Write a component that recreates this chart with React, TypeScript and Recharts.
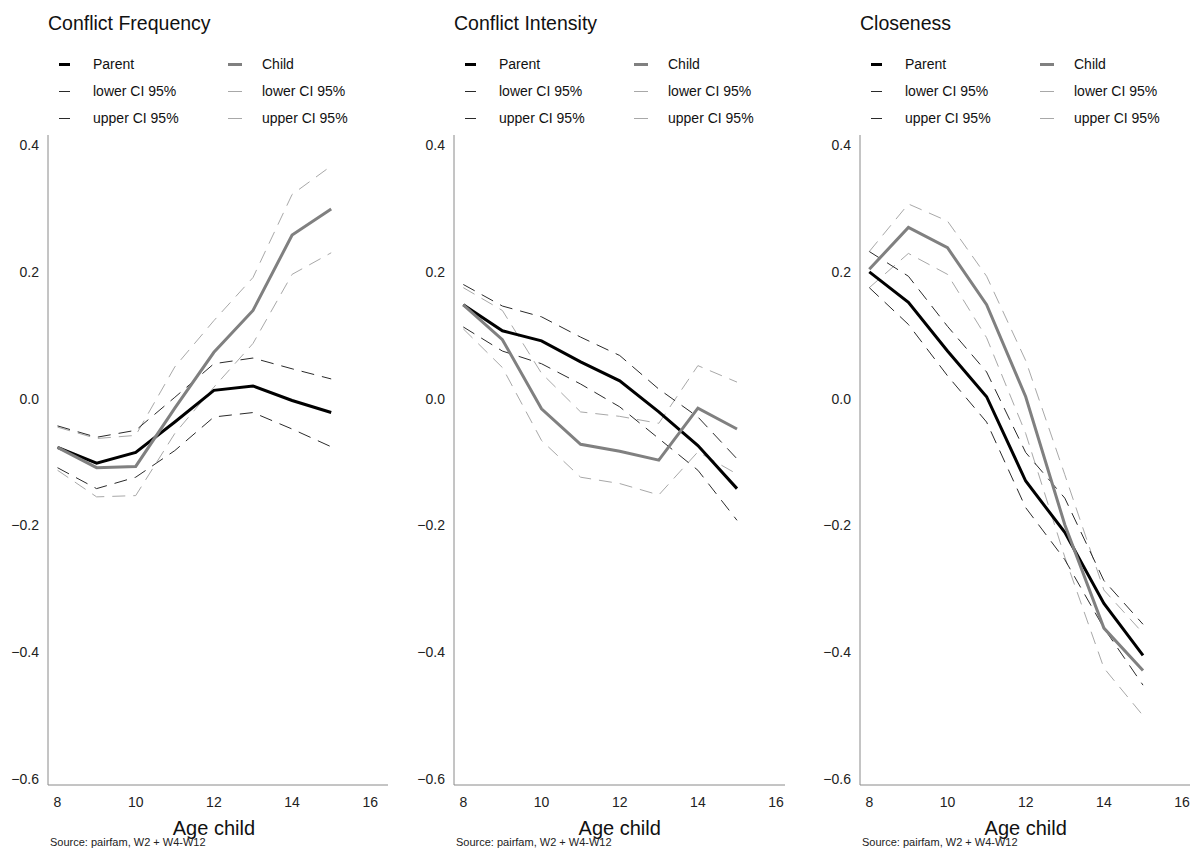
import { LineChart, Line, XAxis, YAxis } from 'recharts'

// ── data ──
const ages = [8, 9, 10, 11, 12, 13, 14, 15]

const freqParent = [-0.077, -0.102, -0.085, -0.037, 0.013, 0.02, -0.003, -0.022]
const freqParentLo = [-0.109, -0.142, -0.124, -0.082, -0.029, -0.022, -0.048, -0.076]
const freqParentHi = [-0.043, -0.061, -0.05, 0.002, 0.055, 0.064, 0.047, 0.031]
const freqChild = [-0.077, -0.109, -0.107, -0.015, 0.073, 0.139, 0.258, 0.299]
const freqChildLo = [-0.113, -0.155, -0.153, -0.055, 0.018, 0.087, 0.196, 0.23]
const freqChildHi = [-0.045, -0.063, -0.058, 0.05, 0.123, 0.191, 0.322, 0.367]

const intParent = [0.148, 0.107, 0.091, 0.058, 0.028, -0.021, -0.074, -0.142]
const intParentLo = [0.113, 0.075, 0.055, 0.023, -0.013, -0.063, -0.113, -0.192]
const intParentHi = [0.18, 0.146, 0.129, 0.097, 0.068, 0.015, -0.029, -0.095]
const intChild = [0.148, 0.093, -0.016, -0.072, -0.083, -0.097, -0.015, -0.048]
const intChildLo = [0.11, 0.049, -0.066, -0.124, -0.134, -0.152, -0.084, -0.119]
const intChildHi = [0.175, 0.139, 0.04, -0.021, -0.028, -0.039, 0.052, 0.026]

const cloParent = [0.2, 0.152, 0.075, 0.003, -0.13, -0.211, -0.323, -0.405]
const cloParentLo = [0.175, 0.117, 0.036, -0.037, -0.172, -0.254, -0.362, -0.452]
const cloParentHi = [0.232, 0.193, 0.114, 0.042, -0.085, -0.157, -0.287, -0.356]
const cloChild = [0.204, 0.27, 0.238, 0.148, 0.003, -0.199, -0.362, -0.429]
const cloChildLo = [0.175, 0.229, 0.196, 0.096, -0.055, -0.25, -0.425, -0.5]
const cloChildHi = [0.232, 0.307, 0.28, 0.193, 0.06, -0.12, -0.302, -0.37]

const xTicks = [8, 10, 12, 14, 16]
const yTicks = [-0.6, -0.4, -0.2, 0, 0.2, 0.4]

const FONT = '"Liberation Sans", Arial, Helvetica, sans-serif'
const PX_PER_YEAR = 39.1
const PLOT_TOP = 135
const PLOT_BOTTOM = 785
const Y_DOMAIN: [number, number] = [-0.6095, 0.4158]

const C_PARENT = '#000000'
const C_CHILD = '#808080'
const C_PARENT_CI = '#2a2a2a'
const C_CHILD_CI = '#a8a8a8'

function build(p: number[], pl: number[], ph: number[], c: number[], cl: number[], ch: number[]) {
  return ages.map((age, i) => ({
    age,
    parent: p[i],
    parentLo: pl[i],
    parentHi: ph[i],
    child: c[i],
    childLo: cl[i],
    childHi: ch[i],
  }))
}

const panels = [
  { title: 'Conflict Frequency', left: 48, right: 388, p8: 57.5, rows: build(freqParent, freqParentLo, freqParentHi, freqChild, freqChildLo, freqChildHi) },
  { title: 'Conflict Intensity', left: 454, right: 785, p8: 463.3, rows: build(intParent, intParentLo, intParentHi, intChild, intChildLo, intChildHi) },
  { title: 'Closeness', left: 860, right: 1190, p8: 869.3, rows: build(cloParent, cloParentLo, cloParentHi, cloChild, cloChildLo, cloChildHi) },
]

const fmtY = (v: number) => {
  if (Math.abs(v) < 1e-9) return '0.0'
  return (v < 0 ? '\u2212' : '') + Math.abs(v).toFixed(1)
}

function LegendRow({ x, y, color, thick, wide, label }: { x: number; y: number; color: string; thick: boolean; wide: number; label: string }) {
  return (
    <>
      <div
        style={{
          position: 'absolute',
          left: x,
          top: y - (thick ? 1.5 : 0.5),
          width: wide,
          height: thick ? 3 : 1,
          background: color,
        }}
      />
      <div
        style={{
          position: 'absolute',
          left: x + 34,
          top: y - 9,
          fontSize: 14,
          lineHeight: '18px',
          color: '#111',
          whiteSpace: 'nowrap',
        }}
      >
        {label}
      </div>
    </>
  )
}

function Panel({ title, left, right, p8, rows }: (typeof panels)[number]) {
  const yAxisW = 50
  const chartLeft = left - yAxisW
  const chartW = yAxisW + (right - left) + 5
  const chartTop = PLOT_TOP - 10
  const xAxisH = 30
  const chartH = PLOT_BOTTOM - chartTop + xAxisH + 5
  const xDomain: [number, number] = [8 - (p8 - left) / PX_PER_YEAR, 8 + (right - p8) / PX_PER_YEAR]
  const mid = p8 + 4 * PX_PER_YEAR

  return (
    <>
      <div style={{ position: 'absolute', left, top: 11, fontSize: 19.5, lineHeight: '24px', color: '#111', whiteSpace: 'nowrap' }}>
        {title}
      </div>

      <LegendRow x={left + 11} y={64} color={C_PARENT} thick wide={11} label="Parent" />
      <LegendRow x={left + 11} y={91} color={C_PARENT_CI} thick={false} wide={11} label="lower CI 95%" />
      <LegendRow x={left + 11} y={118} color={C_PARENT_CI} thick={false} wide={11} label="upper CI 95%" />
      <LegendRow x={left + 180} y={64} color={C_CHILD} thick wide={14} label="Child" />
      <LegendRow x={left + 180} y={91} color={C_CHILD_CI} thick={false} wide={14} label="lower CI 95%" />
      <LegendRow x={left + 180} y={118} color={C_CHILD_CI} thick={false} wide={14} label="upper CI 95%" />

      <div style={{ position: 'absolute', left: chartLeft, top: chartTop }}>
        <LineChart
          width={chartW}
          height={chartH}
          data={rows}
          margin={{ top: 10, right: 5, bottom: 5, left: 0 }}
          style={{ fontFamily: FONT }}
        >
          <XAxis
            dataKey="age"
            type="number"
            domain={xDomain}
            ticks={xTicks}
            allowDataOverflow
            tickLine={false}
            tickSize={0}
            tickMargin={12}
            height={xAxisH}
            stroke="#8a8a8a"
            tick={{ fill: '#222', fontSize: 14 }}
          />
          <YAxis
            type="number"
            domain={Y_DOMAIN}
            ticks={yTicks}
            allowDataOverflow
            tickLine={false}
            tickSize={0}
            tickMargin={9}
            width={yAxisW}
            stroke="#8a8a8a"
            tickFormatter={fmtY}
            tick={{ fill: '#222', fontSize: 14 }}
          />
          <Line dataKey="childLo" type="linear" stroke={C_CHILD_CI} strokeWidth={1} strokeDasharray="13 8" dot={false} activeDot={false} isAnimationActive={false} />
          <Line dataKey="childHi" type="linear" stroke={C_CHILD_CI} strokeWidth={1} strokeDasharray="13 8" dot={false} activeDot={false} isAnimationActive={false} />
          <Line dataKey="parentLo" type="linear" stroke={C_PARENT_CI} strokeWidth={1} strokeDasharray="13 8" dot={false} activeDot={false} isAnimationActive={false} />
          <Line dataKey="parentHi" type="linear" stroke={C_PARENT_CI} strokeWidth={1} strokeDasharray="13 8" dot={false} activeDot={false} isAnimationActive={false} />
          <Line dataKey="parent" type="linear" stroke={C_PARENT} strokeWidth={3} dot={false} activeDot={false} isAnimationActive={false} />
          <Line dataKey="child" type="linear" stroke={C_CHILD} strokeWidth={3} dot={false} activeDot={false} isAnimationActive={false} />
        </LineChart>
      </div>

      <div
        style={{
          position: 'absolute',
          left: mid - 100,
          width: 200,
          top: 816,
          textAlign: 'center',
          fontSize: 20,
          lineHeight: '24px',
          color: '#111',
        }}
      >
        Age child
      </div>
      <div style={{ position: 'absolute', left: left + 2, top: 835, fontSize: 11, lineHeight: '14px', color: '#222', whiteSpace: 'nowrap' }}>
        Source: pairfam, W2 + W4-W12
      </div>
    </>
  )
}

export default function App() {
  return (
    <div
      style={{
        position: 'absolute',
        left: 0,
        top: 0,
        width: 1193,
        height: 856,
        background: '#fff',
        fontFamily: FONT,
        overflow: 'hidden',
      }}
    >
      {panels.map((p) => (
        <Panel key={p.title} {...p} />
      ))}
    </div>
  )
}
